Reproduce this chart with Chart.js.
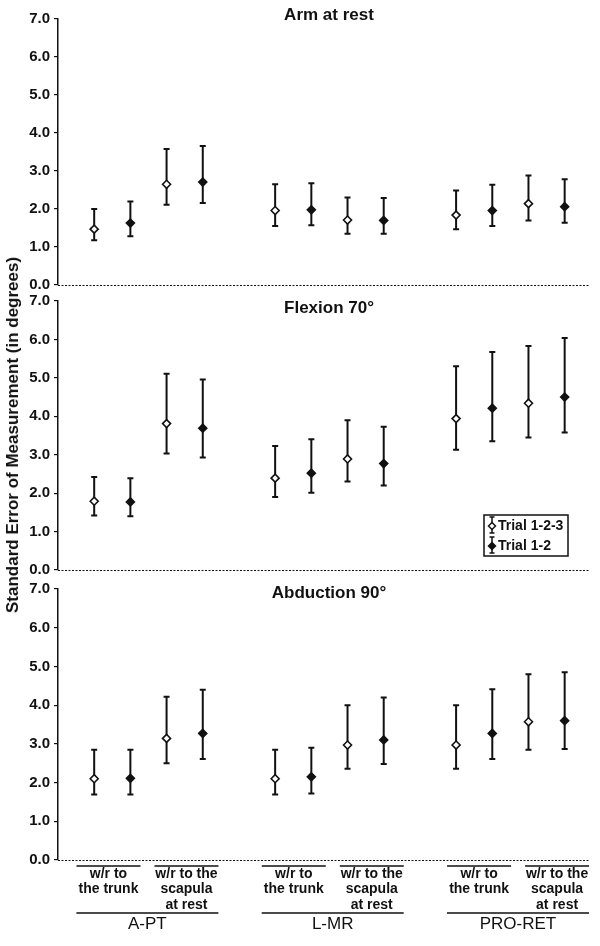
<!DOCTYPE html>
<html><head><meta charset="utf-8">
<script src="https://cdn.jsdelivr.net/npm/chart.js@4.4.1/dist/chart.umd.min.js"></script>
<style>
html,body{margin:0;padding:0;background:#fff;}
#wrap{position:relative;width:600px;height:946px;overflow:hidden;background:#fff;}
canvas{position:absolute;left:0;}
#ytitle{position:absolute;left:13px;top:435px;transform:translate(-50%,-50%) rotate(-90deg);font:bold 17px "Liberation Sans",Arial,sans-serif;white-space:nowrap;color:#111;}
</style></head>
<body><div id="wrap">
<canvas id="c1" width="600" height="300" style="top:0px"></canvas>
<canvas id="c2" width="600" height="300" style="top:285px"></canvas>
<canvas id="c3" width="600" height="371" style="top:575px"></canvas>
<div id="ytitle">Standard Error of Measurement (in degrees)</div>
</div>
<script>
// ---- data ----
const panelTitles = ['Arm at rest', 'Flexion 70°', 'Abduction 90°'];
const seriesLabels = ['Trial 1-2-3', 'Trial 1-2'];
const yTicks = [0, 1, 2, 3, 4, 5, 6, 7];
const groupLabels = ['A-PT', 'L-MR', 'PRO-RET'];
const subLabelTrunk = ['w/r to', 'the trunk'];
const subLabelScapula = ['w/r to the', 'scapula', 'at rest'];
const openPos = [1, 3, 6, 8, 11, 13];
const filledPos = [2, 4, 7, 9, 12, 14];

// Arm at rest
const restOpen = [1.47, 2.65, 1.96, 1.71, 1.84, 2.14];
const restOpenLo = [1.18, 2.11, 1.55, 1.35, 1.47, 1.70];
const restOpenHi = [2.00, 3.58, 2.65, 2.30, 2.49, 2.88];
const restFill = [1.63, 2.71, 1.98, 1.70, 1.96, 2.06];
const restFillLo = [1.28, 2.16, 1.57, 1.35, 1.55, 1.64];
const restFillHi = [2.20, 3.66, 2.68, 2.29, 2.64, 2.78];
// Flexion 70
const flexOpen = [1.79, 3.81, 2.39, 2.89, 3.94, 4.34];
const flexOpenLo = [1.42, 3.03, 1.90, 2.30, 3.13, 3.45];
const flexOpenHi = [2.42, 5.11, 3.23, 3.90, 5.30, 5.83];
const flexFill = [1.77, 3.69, 2.52, 2.77, 4.21, 4.50];
const flexFillLo = [1.40, 2.93, 2.01, 2.20, 3.35, 3.58];
const flexFillHi = [2.39, 4.96, 3.40, 3.73, 5.67, 6.04];
// Abduction 90
const abdOpen = [2.10, 3.14, 2.10, 2.97, 2.97, 3.57];
const abdOpenLo = [1.69, 2.50, 1.69, 2.36, 2.36, 2.85];
const abdOpenHi = [2.85, 4.22, 2.85, 4.00, 4.00, 4.80];
const abdFill = [2.11, 3.27, 2.15, 3.10, 3.27, 3.60];
const abdFillLo = [1.69, 2.61, 1.72, 2.48, 2.61, 2.87];
const abdFillHi = [2.85, 4.40, 2.90, 4.20, 4.41, 4.85];

// ---- drawing ----
const FONT = '"Liberation Sans", Arial, sans-serif';
const INK = '#111';

const errorBars = {
  id: 'errorBars',
  beforeDatasetsDraw(chart) {
    const ctx = chart.ctx, xs = chart.scales.x, ys = chart.scales.y, a = chart.chartArea;
    ctx.save();
    // dashed zero baseline
    ctx.strokeStyle = INK; ctx.lineWidth = 1.1; ctx.setLineDash([2, 1.5]);
    const y0 = Math.round(ys.getPixelForValue(0)) + 0.5;
    ctx.beginPath(); ctx.moveTo(a.left, y0); ctx.lineTo(a.right, y0); ctx.stroke();
    ctx.setLineDash([]);
    ctx.lineWidth = 2;
    chart.data.datasets.forEach(ds => {
      ds.data.forEach((p, j) => {
        const x = xs.getPixelForValue(p.x);
        const yl = ys.getPixelForValue(ds.errLo[j]);
        const yh = ys.getPixelForValue(ds.errHi[j]);
        ctx.beginPath();
        ctx.moveTo(x, yl); ctx.lineTo(x, yh);
        ctx.moveTo(x - 3, yl); ctx.lineTo(x + 3, yl);
        ctx.moveTo(x - 3, yh); ctx.lineTo(x + 3, yh);
        ctx.stroke();
      });
    });
    ctx.restore();
  }
};

const panelTitle = {
  id: 'panelTitle',
  afterDraw(chart, args, opts) {
    const ctx = chart.ctx, a = chart.chartArea;
    ctx.save();
    ctx.font = 'bold 17px ' + FONT;
    ctx.fillStyle = INK; ctx.textAlign = 'center'; ctx.textBaseline = 'middle';
    ctx.fillText(opts.text, (a.left + a.right) / 2 + 5, a.top + opts.dy);
    ctx.restore();
  }
};

function diamond(ctx, x, y, r, filled) {
  ctx.beginPath();
  ctx.moveTo(x - r, y); ctx.lineTo(x, y - r); ctx.lineTo(x + r, y); ctx.lineTo(x, y + r); ctx.closePath();
  ctx.fillStyle = filled ? INK : '#fff';
  ctx.fill(); ctx.lineWidth = 1.5; ctx.strokeStyle = INK; ctx.stroke();
}

const boxLegend = {
  id: 'boxLegend',
  afterDraw(chart, args, opts) {
    if (!opts.show) return;
    const ctx = chart.ctx, a = chart.chartArea;
    const right = a.right - 22, bottom = a.bottom - 14, w = 84, h = 41;
    const left = right - w, top = bottom - h;
    ctx.save();
    ctx.strokeStyle = INK; ctx.lineWidth = 1.5;
    ctx.strokeRect(left, top, w, h);
    ctx.font = 'bold 14px ' + FONT; ctx.textBaseline = 'middle'; ctx.textAlign = 'left';
    chart.data.datasets.forEach((ds, i) => {
      const cy = top + 10 + i * 20;
      const ix = left + 8;
      ctx.lineWidth = 1.5; ctx.strokeStyle = INK;
      ctx.beginPath();
      ctx.moveTo(ix, cy - 8); ctx.lineTo(ix, cy + 8);
      ctx.moveTo(ix - 2.5, cy - 8); ctx.lineTo(ix + 2.5, cy - 8);
      ctx.moveTo(ix - 2.5, cy + 8); ctx.lineTo(ix + 2.5, cy + 8);
      ctx.stroke();
      diamond(ctx, ix, cy + 1, 3.5, i === 1);
      ctx.fillStyle = INK;
      ctx.fillText(ds.label, left + 14, cy + 1);
    });
    ctx.restore();
  }
};

const groupAxis = {
  id: 'groupAxis',
  afterDraw(chart, args, opts) {
    if (!opts.show) return;
    const ctx = chart.ctx, a = chart.chartArea, xs = chart.scales.x;
    const b = a.bottom;
    ctx.save();
    ctx.strokeStyle = INK; ctx.fillStyle = INK; ctx.lineWidth = 1.5;
    ctx.textAlign = 'center'; ctx.textBaseline = 'middle';
    groupLabels.forEach((g, gi) => {
      const off = gi * 5.12;
      const cT = xs.getPixelForValue(1.395 + off);
      const cS = xs.getPixelForValue(3.55 + off);
      const cG = xs.getPixelForValue(2.47 + off);
      ctx.beginPath();
      ctx.moveTo(cT - 32, b + 6); ctx.lineTo(cT + 32, b + 6);
      ctx.moveTo(cS - 32, b + 6); ctx.lineTo(cS + 32, b + 6);
      ctx.moveTo(cG - 71, b + 53); ctx.lineTo(cG + 71, b + 53);
      ctx.stroke();
      ctx.font = 'bold 14px ' + FONT;
      subLabelTrunk.forEach((t, k) => ctx.fillText(t, cT, b + 14 + k * 15.5));
      subLabelScapula.forEach((t, k) => ctx.fillText(t, cS, b + 14 + k * 15.5));
      ctx.font = '17px ' + FONT;
      ctx.fillText(g, cG, b + 64);
    });
    ctx.restore();
  }
};

function makePanel(id, idx, open, openLo, openHi, fill, fillLo, fillHi, pad, titleDy, showLegend, showGroups) {
  new Chart(document.getElementById(id), {
    type: 'scatter',
    data: {
      datasets: [
        { label: seriesLabels[0], data: openPos.map((x, i) => ({ x, y: open[i] })), errLo: openLo, errHi: openHi,
          pointStyle: 'rectRot', pointRadius: 4, pointHoverRadius: 4, pointBorderWidth: 1.6,
          pointBackgroundColor: '#fff', pointBorderColor: INK },
        { label: seriesLabels[1], data: filledPos.map((x, i) => ({ x, y: fill[i] })), errLo: fillLo, errHi: fillHi,
          pointStyle: 'rectRot', pointRadius: 4, pointHoverRadius: 4, pointBorderWidth: 1.6,
          pointBackgroundColor: INK, pointBorderColor: INK }
      ]
    },
    options: {
      responsive: false, animation: false, events: [],
      layout: { padding: pad },
      scales: {
        x: { type: 'linear', min: 0, max: 14.7,
             ticks: { display: false }, grid: { display: false },
             border: { display: false },
             afterFit: s => { s.height = 0; } },
        y: { min: 0, max: 7,
             afterBuildTicks: s => { s.ticks = yTicks.map(v => ({ value: v })); },
             ticks: { callback: v => Number(v).toFixed(1), color: INK, padding: 4,
                      font: { family: FONT, size: 15, weight: 'bold', lineHeight: 1 } },
             grid: { display: true, drawOnChartArea: false, drawTicks: true, tickLength: 4, color: INK, lineWidth: 1.2 },
             border: { display: true, color: INK, width: 1.5 },
             afterFit: s => { s.width = 58; } }
      },
      plugins: {
        legend: { display: false }, tooltip: { enabled: false },
        panelTitle: { text: panelTitles[idx], dy: titleDy },
        boxLegend: { show: showLegend },
        groupAxis: { show: showGroups }
      }
    },
    plugins: [errorBars, panelTitle, boxLegend, groupAxis]
  });
}

makePanel('c1', 0, restOpen, restOpenLo, restOpenHi, restFill, restFillLo, restFillHi,
  { top: 19, bottom: 15, left: 0, right: 10 }, -4, false, false);
makePanel('c2', 1, flexOpen, flexOpenLo, flexOpenHi, flexFill, flexFillLo, flexFillHi,
  { top: 16, bottom: 15, left: 0, right: 10 }, 7, true, false);
makePanel('c3', 2, abdOpen, abdOpenLo, abdOpenHi, abdFill, abdFillLo, abdFillHi,
  { top: 14, bottom: 86, left: 0, right: 10 }, 4, false, true);
</script>
</body></html>
